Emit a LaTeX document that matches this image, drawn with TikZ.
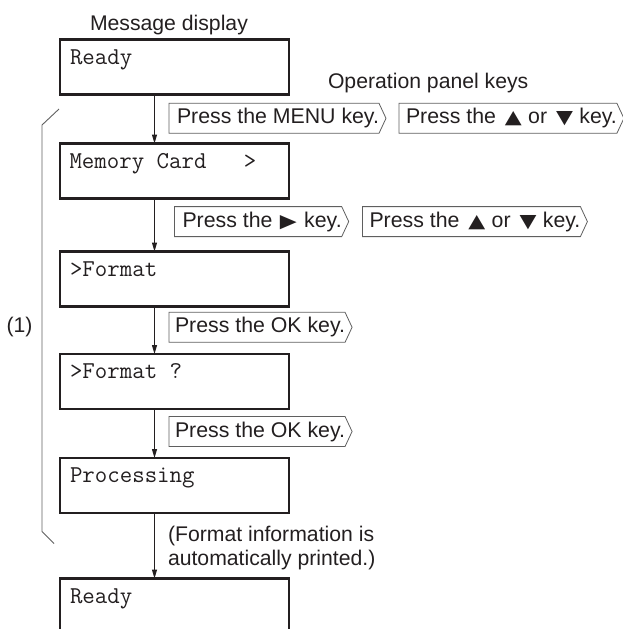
\documentclass[tikz,border=0pt]{standalone}
\usepackage{fontspec}
\setmainfont{Liberation Sans}
\newfontfamily\monofont{Latin Modern Mono}
\newfontfamily\symfont{DejaVu Sans}
\usetikzlibrary{arrows.meta,calc}
\definecolor{ink}{RGB}{35,31,32}
\definecolor{keygray}{RGB}{95,95,95}
\newcommand{\tri}[1]{{\symfont\fontsize{22}{22}\selectfont\scalebox{1}[0.85]{#1}}}
\newcommand{\up}{\hspace{3pt}\tri{▲}\hspace{0.5pt}}
\newcommand{\down}{\hspace{3pt}\tri{▼}\hspace{0.5pt}}
\newcommand{\rgt}{\hspace{1.5pt}\tri{▶}\hspace{1.5pt}}
\begin{document}
\begin{tikzpicture}[x=1pt,y=-1pt,
  every node/.style={text=ink, inner sep=0pt, outer sep=0pt},
  disp/.style={draw=ink, line width=2.2pt, minimum width=229pt, minimum height=55pt, anchor=north west},
  boxline/.style={draw=ink, line width=2.2pt},
  disptext/.style={anchor=base west, font=\monofont\fontsize{24.2}{28}\selectfont},
  keybox/.style={anchor=west, minimum height=30pt, font=\fontsize{21.3}{25}\selectfont},
  keyline/.style={draw=keygray, line width=0.8pt, line join=miter},
  flow/.style={draw=ink, line width=1pt, -{Triangle[length=9pt,width=5pt]}},
  lbl/.style={anchor=base west, font=\fontsize{21.2}{25}\selectfont},
  brk/.style={draw=keygray, line width=0.9pt},
]
\useasboundingbox (0,0) rectangle (622,629);

% titles
\node[lbl] (md) at (90,30) {Message display};
\node[lbl] (opk) at (328,88) {Operation panel keys};

% display boxes
\node[disp] (b1) at (60,39.5) {};
\node[disp] (b2) at (60,143.5) {};
\node[disp] (b3) at (60,251.5) {};
\node[disp] (b4) at (60,354) {};
\node[disp] (b5) at (60,458) {};
\node[disp, draw=none, minimum height=50.5pt] (b6) at (60,578.5) {};
\draw[boxline] (b6.south west) -- (b6.north west) -- (b6.north east) -- (b6.south east);

% display texts
\node[disptext] (t1) at ($(b1.north west)+(10.0,24.5)$) {Ready};
\node[disptext] (t2) at ($(b2.north west)+(9.5,24.5)$) {Memory Card\ \ \ >};
\node[disptext] (t3) at ($(b3.north west)+(10.0,24.5)$) {>Format};
\node[disptext] (t4) at ($(b4.north west)+(10.0,24.5)$) {>Format ?};
\node[disptext] (t5) at ($(b5.north west)+(10.0,24.5)$) {Processing};
\node[disptext] (t6) at ($(b6.north west)+(10.0,24.5)$) {Ready};

% flow arrows
\coordinate (ax) at (154.5,0);
\draw[flow] (b1.south -| ax) -- (b2.north -| ax);
\draw[flow] (b2.south -| ax) -- (b3.north -| ax);
\draw[flow] (b3.south -| ax) -- (b4.north -| ax);
\draw[flow] (b4.south -| ax) -- (b5.north -| ax);
\draw[flow] (b5.south -| ax) -- (b6.north -| ax);

% key boxes
\node[keybox] (k1) at (169,118.3) {\hspace{8pt}Press the MENU key.};
\node[keybox] (k2) at (399,118.3) {\hspace{7pt}Press the \up{} or \down{} key.\hspace{3pt}};
\node[keybox] (k3) at (174.5,221.6) {\hspace{8pt}Press the \rgt{} key.};
\node[keybox] (k4) at (362.5,221.6) {\hspace{7pt}Press the \up{} or \down{} key.};
\node[keybox] (k5) at (169,327.3) {\hspace{6pt}Press the OK key.};
\node[keybox] (k6) at (169,431.5) {\hspace{6pt}Press the OK key.};
\foreach \k in {k1,k2,k3,k4,k5,k6}{
  \draw[keyline] (\k.north west) -- (\k.north east) -- ($(\k.east)+(7,0)$) -- (\k.south east) -- (\k.south west) -- cycle;
}

% note
\node[lbl] (n1) at (168,541.5) {(Format information is};
\node[lbl] (n2) at (168,565) {automatically printed.)};

% bracket
\draw[brk] (59,109) -- (42,125) -- (42,531.5) -- (54,543.5);
\node[lbl] (one) at (6.5,332) {(1)};
\end{tikzpicture}
\end{document}
